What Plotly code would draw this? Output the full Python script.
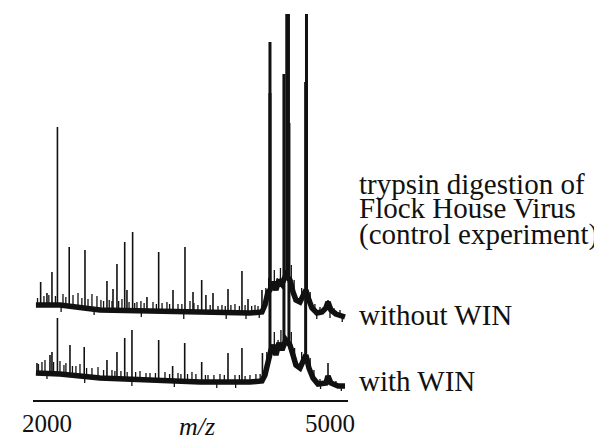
import numpy as np
import plotly.graph_objects as go

# ---------------- data (m/z, intensity in arbitrary units) ----------------
# "without WIN" spectrum (upper trace)
upper_base_mz = [1883, 2138, 2562, 3092, 3622, 4152, 4279, 4311, 4343, 4364, 4396, 4427,
                 4459, 4491, 4533, 4576, 4608, 4639, 4682, 4714, 4745, 4777, 4809, 4862,
                 4915, 4957, 4979, 5010, 5063, 5159]
upper_base_int = [5, 5, 0, -1, -3, -3, -2, 5, 18, 20, 28, 20,
                  30, 26, 35, 30, 18, 10, 8, 14, 20, 10, 2, -3,
                  -2, 2, 8, 0, -4, -7]
upper_peak_mz = [1933, 2000, 2053, 2111, 2236, 2403, 2636, 2700, 2742, 2824, 2848, 2908,
                 3060, 3184, 3336, 3463, 3548, 3640, 3685, 3760, 3919, 4067, 4131, 4279, 4979]
upper_peak_int = [28, 17, 38, 183, 63, 60, 29, 21, 46, 68, 20, 78,
                  13, 58, 20, 63, 18, 30, 15, 17, 21, 39, 11, 20, 10]
upper_minor_mz = [1900, 1968, 2020, 2090, 2170, 2200, 2276, 2329, 2370, 2435, 2477, 2530,
                  2572, 2600, 2660, 2689, 2760, 2795, 2870, 2930, 2954, 2996, 3030, 3124,
                  3160, 3220, 3272, 3300, 3389, 3430, 3516, 3558, 3600, 3730, 3813, 3855,
                  3890, 3950, 3993, 4040, 4100, 4170, 4205, 4237,
                  4320, 4350, 4410, 4440, 4475, 4590, 4620, 4700, 4790, 4840, 4894, 5042, 5106,
                  2150, 2500, 3000, 3450, 3900, 4110, 4250, 4860, 5000, 5130]
upper_minor_int = [12, 14, 15, 14, 16, 13, 15, 17, 12, 11, 16, 14,
                   10, 9, 10, 9, 9, 11, 8, 7, 8, 9, 7, 8,
                   6, 7, 8, 6, 6, 6, 9, 7, 5, 5, 4, 5,
                   4, 5, 6, 4, 5, 4, 5, 4,
                   22, 32, 40, 32, 42, 45, 30, 22, 18, 6, 3, 2, 0,
                   -2, -5, -7, -9, -9, -9, -8, -9, -8, -12]
upper_major_mz = [4364, 4542, 4560, 4751]
upper_major_int = [268, 330, 330, 330]

# "with WIN" spectrum (lower trace)
lower_base_mz = [1883, 2138, 2562, 3092, 3622, 4152, 4279, 4311, 4343, 4374, 4396, 4427,
                 4459, 4491, 4533, 4576, 4608, 4639, 4682, 4714, 4745, 4777, 4820, 4873,
                 4957, 4979, 5010, 5085, 5159]
lower_base_int = [7, 6, 2, 0, -2, -2, -1, 5, 20, 30, 35, 25,
                  37, 30, 40, 35, 25, 15, 12, 18, 25, 12, 2, -4,
                  -3, 4, -3, -6, -6]
lower_peak_mz = [1894, 2032, 2053, 2111, 2244, 2395, 2636, 2742, 2824, 2901, 3184,
                 3332, 3460, 3640, 3919, 4067, 4284, 4979]
lower_peak_int = [17, 25, 28, 62, 35, 33, 20, 28, 42, 50, 40,
                  14, 37, 18, 27, 32, 27, 17]
lower_minor_mz = [1910, 1947, 1979, 2070, 2138, 2180, 2201, 2270, 2307, 2350, 2420, 2477,
                  2541, 2600, 2689, 2720, 2784, 2850, 2940, 2986, 3050, 3092, 3150, 3251,
                  3300, 3389, 3420, 3490, 3537, 3579, 3680, 3707, 3770, 3834, 3880, 3993,
                  4040, 4100, 4152, 4215, 4260,
                  4330, 4360, 4410, 4450, 4480, 4590, 4625, 4700, 4790, 4830, 4894, 5063,
                  2000, 2400, 2900, 3350, 3800, 4000, 4900, 5120]
lower_minor_int = [16, 18, 20, 18, 19, 15, 17, 14, 14, 16, 12, 12,
                   13, 10, 10, 9, 9, 8, 8, 9, 7, 7, 7, 8,
                   6, 7, 6, 6, 8, 6, 5, 5, 5, 6, 5, 5,
                   5, 4, 5, 6, 6,
                   28, 42, 48, 40, 50, 48, 32, 28, 22, 10, 1, -1,
                   1, -3, -6, -7, -8, -8, -9, -11]
lower_major_mz = [4364, 4512, 4565, 4742]
lower_major_int = [287, 306, 257, 298]

OFFSET_UPPER = 90
OFFSET_LOWER = 20

x_ticks = [2000, 5000]
x_tick_labels = ["2000", "5000"]

labels_title = ["trypsin digestion of", "Flock House Virus", "(control experiment)"]
label_upper = "without WIN"
label_lower = "with WIN"

FONT = "Liberation Serif, Times New Roman, serif"
INK = "#111111"


def sticks(mz_list, int_list, base_mz, base_int, offset):
    xs, ys = [], []
    for m, h in zip(mz_list, int_list):
        b = float(np.interp(m, base_mz, base_int))
        xs += [m, m, None]
        ys += [b + offset, h + offset, None]
    return xs, ys


fig = go.Figure()

for bmz, bint, nmz, nint, pmz, pint, mmz, mint, off in [
    (upper_base_mz, upper_base_int, upper_minor_mz, upper_minor_int,
     upper_peak_mz, upper_peak_int, upper_major_mz, upper_major_int, OFFSET_UPPER),
    (lower_base_mz, lower_base_int, lower_minor_mz, lower_minor_int,
     lower_peak_mz, lower_peak_int, lower_major_mz, lower_major_int, OFFSET_LOWER),
]:
    fig.add_trace(go.Scatter(x=bmz, y=[v + off for v in bint], mode="lines",
                             line=dict(color=INK, width=5.5), hoverinfo="skip"))
    nx, ny = sticks(nmz, nint, bmz, bint, off)
    fig.add_trace(go.Scatter(x=nx, y=ny, mode="lines",
                             line=dict(color=INK, width=1.3), hoverinfo="skip"))
    sx, sy = sticks(pmz, pint, bmz, bint, off)
    fig.add_trace(go.Scatter(x=sx, y=sy, mode="lines",
                             line=dict(color=INK, width=1.6), hoverinfo="skip"))
    mx, my = sticks(mmz, mint, bmz, bint, off)
    fig.add_trace(go.Scatter(x=mx, y=my, mode="lines",
                             line=dict(color=INK, width=3), hoverinfo="skip"))

# page body adds an 8px margin; lay out in reference pixel coordinates
SHIFT = 8
W, H = 602 - SHIFT, 443 - SHIFT
plot_left, plot_right, plot_top, plot_bottom = 33, 348, 14, 400   # reference pixels
L = plot_left - SHIFT
R = W - (plot_right - SHIFT)
T = plot_top - SHIFT
B = H - (plot_bottom - SHIFT)
pw, ph = plot_right - plot_left, plot_bottom - plot_top


def px2paper_x(px):
    return (px - plot_left) / pw


def py2paper_y(py):
    return (plot_bottom - py) / ph


annotations = []
for txt, yc in zip(labels_title, [184, 208, 234]):
    annotations.append(dict(text=txt, x=px2paper_x(357), y=py2paper_y(yc), xref="paper", yref="paper",
                            xanchor="left", yanchor="middle", showarrow=False,
                            font=dict(family=FONT, size=29, color=INK)))
annotations.append(dict(text=label_upper, x=px2paper_x(357), y=py2paper_y(315), xref="paper", yref="paper",
                        xanchor="left", yanchor="middle", showarrow=False,
                        font=dict(family=FONT, size=29, color=INK)))
annotations.append(dict(text=label_lower, x=px2paper_x(357), y=py2paper_y(381), xref="paper", yref="paper",
                        xanchor="left", yanchor="middle", showarrow=False,
                        font=dict(family=FONT, size=29, color=INK)))
annotations.append(dict(text="<i>m/z</i>", x=px2paper_x(197), y=py2paper_y(426), xref="paper", yref="paper",
                        xanchor="center", yanchor="middle", showarrow=False,
                        font=dict(family=FONT, size=26, color=INK)))

fig.update_layout(
    width=W, height=H,
    margin=dict(l=L, r=R, t=T, b=B),
    paper_bgcolor="white", plot_bgcolor="white",
    showlegend=False,
    annotations=annotations,
    xaxis=dict(range=[1852, 5191], showgrid=False, zeroline=False,
               showline=True, linecolor=INK, linewidth=2, mirror=False,
               tickvals=x_ticks, ticktext=x_tick_labels, ticks="",
               tickfont=dict(family=FONT, size=25, color=INK)),
    yaxis=dict(range=[0, 386], visible=False, showgrid=False, zeroline=False),
)

fig.write_html("out.html")
